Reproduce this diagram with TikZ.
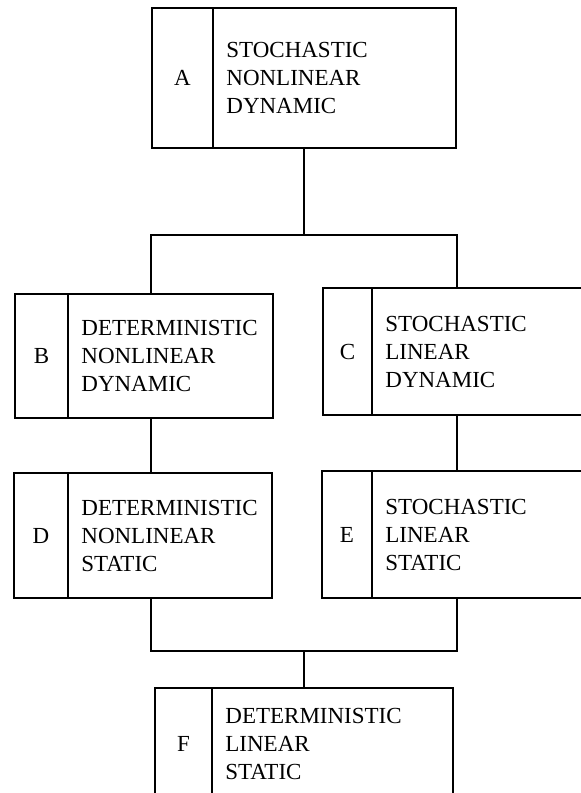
\documentclass[tikz,border=0pt]{standalone}
\usepackage{fontspec}
\setmainfont{Liberation Serif}
\usetikzlibrary{positioning,calc}
\tikzset{%
	block/.style={
		draw,
		line width=1.1pt,
		inner sep=0pt
	},
	divider/.style={ line width=1.1pt },
	link/.style={ line width=1.1pt },
	tag/.style={ font=\fontsize{11.5}{14}\selectfont },
	blocktext/.style={
		anchor=west,
		align=left,
		inner sep=0pt,
		font=\fontsize{11.5}{14}\selectfont
	},
}

\begin{document}
\begin{tikzpicture}[x=0.5pt, y=-0.5pt]
\useasboundingbox (0,0) rectangle (581,793);
\clip (0,0) rectangle (581,793);

% blocks
\foreach \n/\l/\t/\r/\b/\d/\txt in {%
	A/152/8/456/148/213/{STOCHASTIC\\NONLINEAR\\DYNAMIC},
	B/15/294/273/418/68/{DETERMINISTIC\\NONLINEAR\\DYNAMIC},
	C/323/288/620/415/372/{STOCHASTIC\\LINEAR\\DYNAMIC},
	D/14/473/272/598/68/{DETERMINISTIC\\NONLINEAR\\STATIC},
	E/322/471/620/598/372/{STOCHASTIC\\LINEAR\\STATIC},
	F/155/688/453/800/212/{DETERMINISTIC\\LINEAR\\STATIC}}
{
	\pgfmathsetmacro\w{(\r-\l)/2}
	\pgfmathsetmacro\h{(\b-\t)/2}
	\node[block, minimum width=\w pt, minimum height=\h pt] (\n) at ({(\l+\r)/2},{(\t+\b)/2}) {};
	\draw[divider] (\d,\t) -- (\d,\b);
	\node[tag] (\n-tag) at ({(\l+\d)/2},{(\t+\b)/2}) {\n};
	\node[blocktext] (\n-text) at ({\d+13},{(\t+\b)/2}) {\txt};
}

% upper fork
\draw[link] (A.south) -- ++(0,86) coordinate (fork1);
\draw[link] (B.north -| A.west) |- (fork1) -| (C.north -| A.east);

% side links
\draw[link] (B.south -| A.west) -- (D.north -| A.west);
\draw[link] (C.south -| A.east) -- (E.north -| A.east);

% lower fork
\coordinate (fork2) at ($(F.north)+(0,-36)$);
\draw[link] (D.south -| A.west) |- (fork2) -| (E.south -| A.east);
\draw[link] (fork2) -- (F.north);

\end{tikzpicture}
\end{document}
